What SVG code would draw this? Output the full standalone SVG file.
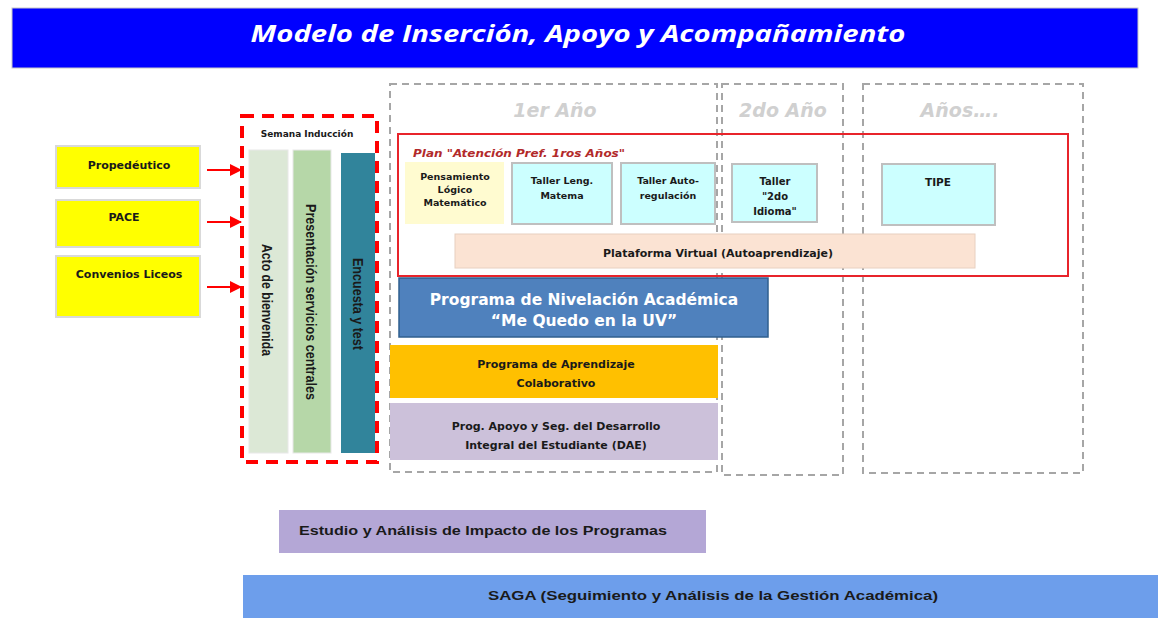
<svg xmlns="http://www.w3.org/2000/svg" width="1158" height="618" viewBox="0 0 1158 618">
<defs>
<marker id="arr" markerWidth="12" markerHeight="12" refX="11" refY="6" orient="auto" markerUnits="userSpaceOnUse">
<path d="M0,0 L12,6 L0,12 Z" fill="#FF0000"/>
</marker>
<style>
.t{font-family:"DejaVu Sans",Verdana,sans-serif;font-weight:bold;fill:#1a1a1a;text-anchor:middle}
.n{font-family:"Liberation Sans",Arial,sans-serif;font-weight:bold;fill:#1a1a1a;text-anchor:middle}
.hdr{font-family:"DejaVu Sans",Verdana,sans-serif;font-weight:bold;font-style:italic;fill:#D0D0D0;text-anchor:middle;font-size:19px}
.yr{fill:none;stroke:#A6A6A6;stroke-width:2;stroke-dasharray:7,5}
.yel{fill:#FFFF00;stroke:#D9D9D9;stroke-width:2}
.cy{fill:#CCFFFF;stroke:#BFBFBF;stroke-width:2}
</style>
</defs>
<rect width="1158" height="618" fill="#FFFFFF"/>
<g id="title">
<rect x="12" y="8" width="1126" height="60" fill="#0000FF" stroke="#C8C8C8" stroke-width="1"/>
<text x="578" y="42" font-family="Open Sans,Liberation Sans,sans-serif" font-weight="bold" font-style="italic" font-size="23" fill="#FFFFFF" text-anchor="middle" textLength="655" lengthAdjust="spacingAndGlyphs">Modelo de  Inserción, Apoyo y Acompañamiento</text>
</g>
<g id="col-1er">
<rect class="yr" x="390" y="84" width="327" height="388"/>
<text class="hdr" x="555" y="117">1er Año</text>
</g>
<g id="col-2do">
<rect class="yr" x="722" y="84" width="121" height="391"/>
<text class="hdr" x="783" y="117">2do Año</text>
</g>
<g id="col-anos">
<rect class="yr" x="863" y="84" width="220" height="389"/>
<text class="hdr" x="960" y="117">Años….</text>
</g>
<g id="propedeutico">
<rect class="yel" x="56" y="146" width="144" height="42"/>
<text class="t" x="129" y="169" font-size="11">Propedéutico</text>
</g>
<g id="pace">
<rect class="yel" x="56" y="200" width="144" height="47"/>
<text class="t" x="124" y="221" font-size="11">PACE</text>
</g>
<g id="convenios">
<rect class="yel" x="56" y="256" width="144" height="61"/>
<text class="t" x="129" y="278" font-size="11">Convenios Liceos</text>
</g>
<g id="semana">
<rect x="242" y="116" width="135" height="346" fill="none" stroke="#FF0000" stroke-width="4" stroke-dasharray="12,8"/>
<text class="t" x="307" y="137" font-size="9">Semana Inducción</text>
</g>
<g id="acto">
<rect x="249" y="150" width="39" height="303" fill="#DCE8D6" stroke="#E8E8E8" stroke-width="1"/>
<text class="n" font-size="14" transform="translate(262,300) rotate(90)" textLength="112" lengthAdjust="spacingAndGlyphs">Acto de bienvenida</text>
</g>
<g id="presentacion">
<rect x="293" y="150" width="38" height="303" fill="#B6D7A8" stroke="#E8E8E8" stroke-width="1"/>
<text class="n" font-size="14" transform="translate(306,302) rotate(90)" textLength="196" lengthAdjust="spacingAndGlyphs">Presentación servicios centrales</text>
</g>
<g id="encuesta">
<rect x="341" y="153" width="34" height="300" fill="#31849B"/>
<text class="n" font-size="14" transform="translate(353,304) rotate(90)" textLength="92" lengthAdjust="spacingAndGlyphs">Encuesta y test</text>
</g>
<g id="plan">
<rect x="398" y="134" width="670" height="142" fill="none" stroke="#E8242B" stroke-width="2"/>
<text x="413" y="157" font-family="DejaVu Sans,Verdana,sans-serif" font-weight="bold" font-style="italic" font-size="11" fill="#B22A2A" textLength="212" lengthAdjust="spacingAndGlyphs">Plan  "Atención Pref. 1ros Años"</text>
</g>
<g id="pensamiento">
<rect x="405" y="162" width="99" height="62" fill="#FFFBD0"/>
<text class="t" font-size="9.5"><tspan x="455" y="180">Pensamiento</tspan><tspan x="455" y="193">Lógico</tspan><tspan x="455" y="206">Matemático</tspan></text>
</g>
<g id="taller-leng">
<rect class="cy" x="512" y="163" width="100" height="61"/>
<text class="t" font-size="9.5"><tspan x="562" y="184">Taller Leng.</tspan><tspan x="562" y="199">Matema</tspan></text>
</g>
<g id="taller-auto">
<rect class="cy" x="621" y="163" width="94" height="61"/>
<text class="t" font-size="9.5"><tspan x="668" y="184">Taller Auto-</tspan><tspan x="668" y="199">regulación</tspan></text>
</g>
<g id="taller-idioma">
<rect class="cy" x="732" y="164" width="85" height="58"/>
<text class="t" font-size="10"><tspan x="775" y="185">Taller</tspan><tspan x="775" y="200">"2do</tspan><tspan x="775" y="215">Idioma"</tspan></text>
</g>
<g id="tipe">
<rect class="cy" x="882" y="164" width="113" height="61"/>
<text class="t" x="938" y="186" font-size="10.5">TIPE</text>
</g>
<g id="plataforma">
<rect x="455" y="234" width="520" height="34" fill="#FBE3D3" stroke="#E8D0C0" stroke-width="1"/>
<text class="t" x="718" y="257" font-size="11">Plataforma Virtual (Autoaprendizaje)</text>
</g>
<g id="nivelacion">
<rect x="399" y="278" width="369" height="59" fill="#4F81BD" stroke="#2F5F8F" stroke-width="1.5"/>
<text font-family="DejaVu Sans,Verdana,sans-serif" font-weight="bold" font-size="15.5" fill="#FFFFFF" text-anchor="middle"><tspan x="584" y="305">Programa de Nivelación Académica</tspan><tspan x="584" y="326">“Me Quedo en la UV”</tspan></text>
</g>
<g id="colaborativo">
<rect x="390" y="345" width="328" height="53" fill="#FFC000"/>
<text class="t" font-size="11"><tspan x="556" y="368">Programa de Aprendizaje</tspan><tspan x="556" y="387">Colaborativo</tspan></text>
</g>
<g id="dae">
<rect x="390" y="403" width="328" height="57" fill="#CCC1DA"/>
<text class="t" font-size="11"><tspan x="556" y="430">Prog. Apoyo y Seg. del Desarrollo</tspan><tspan x="556" y="449">Integral del Estudiante  (DAE)</tspan></text>
</g>
<g id="estudio">
<rect x="279" y="510" width="427" height="43" fill="#B4A7D6"/>
<text class="n" x="483" y="535" font-size="12" textLength="368" lengthAdjust="spacingAndGlyphs">Estudio  y Análisis de Impacto  de los Programas</text>
</g>
<g id="saga">
<rect x="243" y="575" width="915" height="43" fill="#6D9EEB"/>
<text class="n" x="713" y="600" font-size="12" textLength="450" lengthAdjust="spacingAndGlyphs">SAGA (Seguimiento y Análisis de la Gestión Académica)</text>
</g>
<g id="connectors">
<line x1="207" y1="170" x2="241" y2="170" stroke="#FF0000" stroke-width="2" marker-end="url(#arr)"/>
<line x1="207" y1="222" x2="241" y2="222" stroke="#FF0000" stroke-width="2" marker-end="url(#arr)"/>
<line x1="207" y1="287" x2="241" y2="287" stroke="#FF0000" stroke-width="2" marker-end="url(#arr)"/>
</g>
</svg>
